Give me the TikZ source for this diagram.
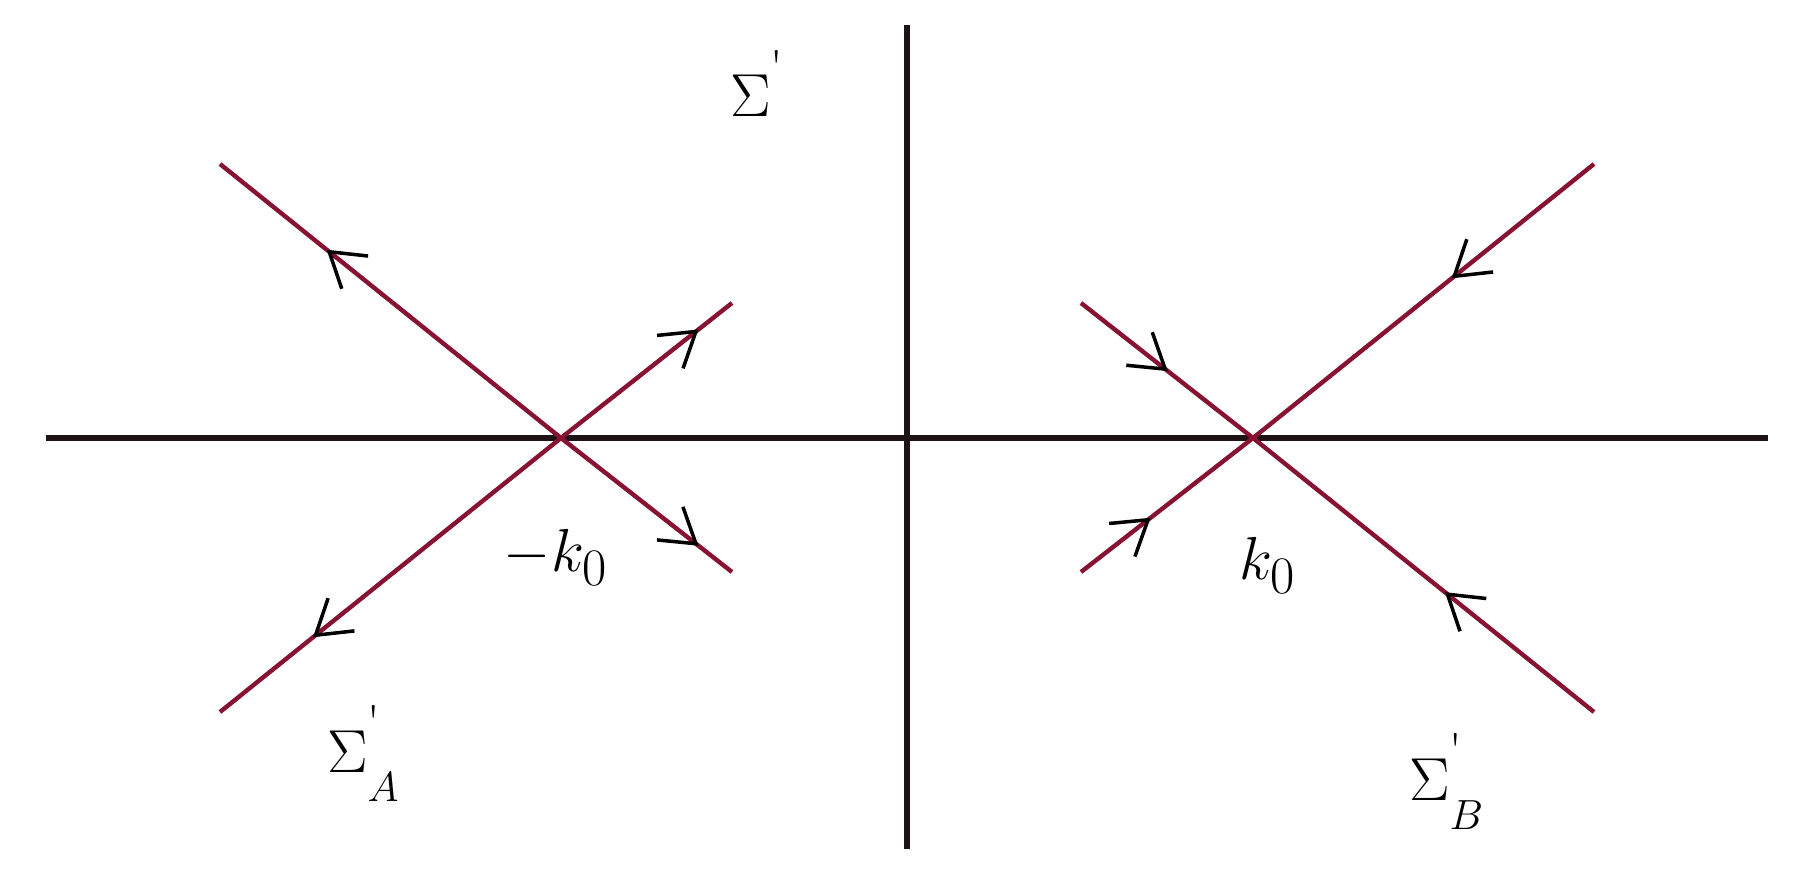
\documentclass[tikz,border=0pt]{standalone}
\usetikzlibrary{decorations.markings}
\definecolor{raycol}{RGB}{135,18,50}
\definecolor{axiscol}{RGB}{30,18,20}
\tikzset{
  axisline/.style={draw=axiscol, line width=1.6pt},
  ray/.style={draw=raycol, line width=1.25pt},
  tipat/.style={postaction={decorate}, decoration={markings,
     mark=at position #1 with {\draw[black, line width=1pt] (-0.33cm,0.21cm) -- (0,0) -- (-0.33cm,-0.21cm);}}},
  lab/.style={font=\fontsize{18}{21}\selectfont, inner sep=0pt, outer sep=0pt}
}
\newcommand{\myprime}{\raisebox{3.5pt}{\fontsize{13}{13}\selectfont\textquotesingle}}
\newcommand{\mysub}[1]{\raisebox{-4pt}{$\scriptstyle #1$}}
\newcommand{\zerosub}{\mbox{\fontsize{15}{15}\selectfont 0}}
\begin{document}
\begin{tikzpicture}[x=0.1mm, y=-0.1mm]
\useasboundingbox (0,0) rectangle (1794,889);
% axes
\coordinate (W) at (46,438);
\coordinate (E) at (1768,438);
\coordinate (N) at (907,25);
\coordinate (S) at (907,849);
\draw[axisline] (W) -- (E);
\draw[axisline] (N) -- (S);
% crossing points
\coordinate (CL) at (561,438);
\coordinate (CR) at (1253,438);
% left X end points
\coordinate (LUL) at (220,164);
\coordinate (LUR) at (732,303);
\coordinate (LLR) at (732,572);
\coordinate (LLL) at (220,712);
% right X end points
\coordinate (RUL) at (1081,303);
\coordinate (RUR) at (1594,164);
\coordinate (RLR) at (1594,712);
\coordinate (RLL) at (1081,572);
% left X: arrows point outward
\draw[ray, tipat=0.68] (CL) -- (LUL);
\draw[ray, tipat=0.79] (CL) -- (LUR);
\draw[ray, tipat=0.79] (CL) -- (LLR);
\draw[ray, tipat=0.72] (CL) -- (LLL);
% right X: arrows point inward
\draw[ray, tipat=0.41] (RUR) -- (CR);
\draw[ray, tipat=0.49] (RUL) -- (CR);
\draw[ray, tipat=0.39] (RLL) -- (CR);
\draw[ray, tipat=0.43] (RLR) -- (CR);
% labels
\node[lab, anchor=base west] (sig) at (730,117) {$\Sigma^{\myprime}$};
\node[lab, anchor=base] (mk) at (556,572) {$-k_{\zerosub}$};
\node[lab, anchor=base] (pk) at (1268,580) {$k_{\zerosub}$};
\node[lab, anchor=base west] (sigA) at (327,772) {$\Sigma^{\myprime}_{\mysub{A}}$};
\node[lab, anchor=base west] (sigB) at (1409,800) {$\Sigma^{\myprime}_{\mysub{B}}$};
\end{tikzpicture}
\end{document}
